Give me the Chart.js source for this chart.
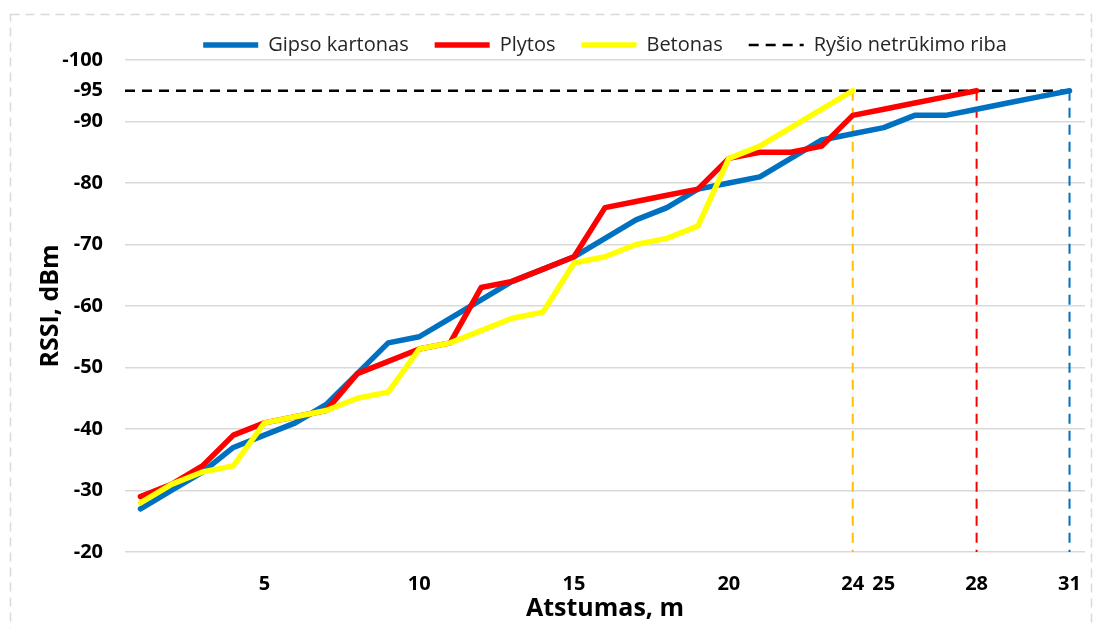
<!DOCTYPE html>
<html>
<head>
<meta charset="utf-8">
<script src="https://cdn.jsdelivr.net/npm/chart.js@4.4.1/dist/chart.umd.min.js"></script>
<style>
    body { margin: 0; background: #fff; }
    canvas { display: block; }
</style>
</head>
<body>
<canvas id="rssiChart" width="1097" height="628"></canvas>
<script>
// Atstumas, m
const distances = [1, 2, 3, 4, 5, 6, 7, 8, 9, 10, 11, 12, 13, 14, 15, 16,
                   17, 18, 19, 20, 21, 22, 23, 24, 25, 26, 27, 28, 29, 30, 31];

// RSSI, dBm
const gipsoKartonas = [-27, -30, -33, -37, -39, -41, -44, -49, -54, -55, -58, -61, -64, -66, -68, -71,
                       -74, -76, -79, -80, -81, -84, -87, -88, -89, -91, -91, -92, -93, -94, -95];
const plytos = [-29, -31, -34, -39, -41, -42, -43, -49, -51, -53, -54, -63, -64, -66, -68, -76,
                -77, -78, -79, -84, -85, -85, -86, -91, -92, -93, -94, -95];
const betonas = [-28, -31, -33, -34, -41, -42, -43, -45, -46, -53, -54, -56, -58, -59, -67, -68,
                 -70, -71, -73, -84, -86, -89, -92, -95];

const threshold = -95;
const xTickValues = [5, 10, 15, 20, 24, 25, 28, 31];
const yTickValues = [-100, -95, -90, -80, -70, -60, -50, -40, -30, -20];

const X_MIN = 0.5, X_MAX = 31.5;
const Y_TOP = -100, Y_BOTTOM = -20;

const toPoints = arr => arr.map((v, i) => ({ x: distances[i], y: v }));

// vertikali linija nuo ribos iki asies apacios ties paskutiniu tasku
function dropLine(series, color) {
    const xEnd = distances[series.length - 1];
    return {
        label: '',
        data: [{ x: xEnd, y: threshold }, { x: xEnd, y: Y_BOTTOM }],
        borderColor: color,
        borderWidth: 2,
        borderDash: [10, 7],
        borderCapStyle: 'butt',
        pointRadius: 0,
        order: 6
    };
}

const borderPlugin = {
    id: 'outerBorder',
    beforeDraw(chart) {
        const ctx = chart.ctx;
        ctx.save();
        ctx.fillStyle = '#ffffff';
        ctx.fillRect(0, 0, chart.width, chart.height);
        ctx.strokeStyle = '#d9d9d9';
        ctx.lineWidth = 1.5;
        ctx.setLineDash([9, 6]);
        ctx.strokeRect(10.5, 14.5, 1081, 700);
        ctx.restore();
    }
};

const ctx = document.getElementById('rssiChart');

new Chart(ctx, {
    type: 'line',
    data: {
        datasets: [
            {
                label: 'Gipso kartonas',
                data: toPoints(gipsoKartonas),
                borderColor: '#0070C0',
                borderWidth: 5.5,
                order: 3
            },
            {
                label: 'Plytos',
                data: toPoints(plytos),
                borderColor: '#FF0000',
                borderWidth: 5.5,
                order: 2
            },
            {
                label: 'Betonas',
                data: toPoints(betonas),
                borderColor: '#FFFF00',
                borderWidth: 5.5,
                order: 1
            },
            {
                label: 'Ryšio netrūkimo riba',
                data: [{ x: X_MIN, y: threshold }, { x: distances[distances.length - 1], y: threshold }],
                borderColor: '#000000',
                borderWidth: 2.5,
                borderDash: [10, 7],
                borderCapStyle: 'butt',
                order: 4
            },
            dropLine(betonas, '#FFC000'),
            dropLine(plytos, '#FF0000'),
            dropLine(gipsoKartonas, '#0070C0')
        ]
    },
    options: {
        responsive: false,
        animation: false,
        events: [],
        layout: {
            padding: { left: 10, right: 12, top: 9, bottom: 0 }
        },
        elements: {
            point: { radius: 0 },
            line: { tension: 0, borderJoinStyle: 'round', borderCapStyle: 'round', fill: false }
        },
        plugins: {
            tooltip: { enabled: false },
            legend: {
                position: 'top',
                fullSize: false,
                maxHeight: 51,
                labels: {
                    usePointStyle: true,
                    pointStyle: 'line',
                    pointStyleWidth: 55,
                    padding: 26,
                    color: '#262626',
                    font: { family: 'Open Sans', size: 20 },
                    generateLabels: chart => Chart.defaults.plugins.legend.labels.generateLabels(chart)
                        .map(item => {
                            const ds = chart.data.datasets[item.datasetIndex];
                            item.lineDash = ds.borderDash || [];
                            item.lineWidth = ds.borderWidth;
                            item.lineCap = 'butt';
                            return item;
                        }),
                    filter: item => item.text !== '',
                    sort: (a, b) => a.datasetIndex - b.datasetIndex
                }
            }
        },
        scales: {
            x: {
                type: 'linear',
                min: X_MIN,
                max: X_MAX,
                grid: { display: false },
                border: { display: false },
                afterBuildTicks: scale => {
                    scale.ticks = xTickValues.map(v => ({ value: v }));
                },
                afterFit: scale => { scale.height = 76; },
                ticks: {
                    autoSkip: false,
                    maxRotation: 0,
                    padding: 12,
                    color: '#000',
                    font: { family: 'Open Sans', size: 20, weight: 'bold' }
                },
                title: {
                    display: true,
                    text: 'Atstumas, m',
                    color: '#000',
                    padding: { top: 0, bottom: 4 },
                    font: { family: 'Open Sans', size: 25, weight: 'bold' }
                }
            },
            y: {
                type: 'linear',
                reverse: true,
                min: Y_TOP,
                max: Y_BOTTOM,
                afterBuildTicks: scale => {
                    scale.ticks = yTickValues.map(v => ({ value: v }));
                },
                afterFit: scale => { scale.width = 115; },
                border: { display: false },
                grid: {
                    drawTicks: false,
                    lineWidth: 1.5,
                    color: c => c.tick && c.tick.value === threshold ? 'rgba(0,0,0,0)' : '#d9d9d9'
                },
                ticks: {
                    padding: 22,
                    color: '#000',
                    font: { family: 'Open Sans', size: 20, weight: 'bold' }
                },
                title: {
                    display: true,
                    text: 'RSSI, dBm',
                    color: '#000',
                    padding: { top: 26, bottom: 0 },
                    font: { family: 'Open Sans', size: 25, weight: 'bold' }
                }
            }
        }
    },
    plugins: [borderPlugin]
});
</script>
</body>
</html>
